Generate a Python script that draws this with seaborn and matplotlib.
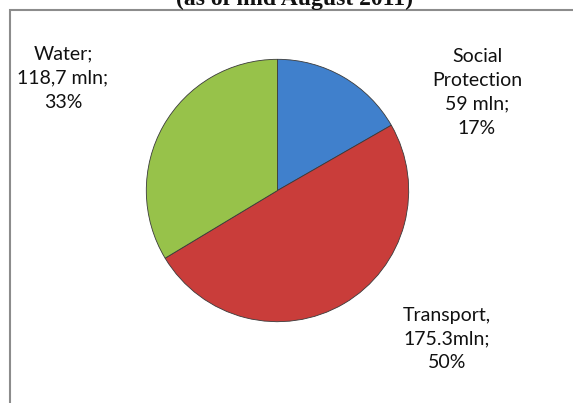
import matplotlib
matplotlib.use("Agg")
import matplotlib.pyplot as plt
import seaborn as sns
from matplotlib.patches import Rectangle

sns.set_style("white")
plt.rcParams['font.family'] = ['Lato', 'DejaVu Sans']

categories = ["Social Protection", "Transport", "Water"]
values = [59, 175.3, 118.7]
label_texts = ["Social\nProtection\n59 mln;\n17%", "Transport,\n175.3mln;\n50%", "Water;\n118,7 mln;\n33%"]
colors = ["#4080CC", "#C93D3A", "#97C24A"]
title = "(as of mid August 2011)"

W, H = 573, 403
fig = plt.figure(figsize=(W / 100, H / 100), dpi=100)
fig.patch.set_facecolor("white")

def px(x, y):
    return x / W, 1 - y / H

# frame (left and top borders visible)
fig.patches.append(Rectangle(px(10, 420), (W + 20) / W, (420 - 9.5) / H, transform=fig.transFigure,
                             fill=False, edgecolor="#8C8C8C", linewidth=1.5, zorder=0))

cx, cy, r = 277.5, 190.5, 132.5
ax = fig.add_axes([(cx - r) / W, 1 - (cy + r) / H, 2 * r / W, 2 * r / H])
wedges, _ = ax.pie(values, colors=colors, startangle=90, counterclock=False,
                   wedgeprops=dict(edgecolor="#3a3a3a", linewidth=0.6), radius=1.0)
ax.set_xlim(-1.01, 1.01)
ax.set_ylim(-1.01, 1.01)
ax.set_aspect("auto")
ax.axis("off")

# labels
positions = [(477, 92), (447, 339), (63, 78)]
for txt, (x, y) in zip(label_texts, positions):
    fig.text(*px(x, y), txt, ha="center", va="center", fontsize=14, color="#111111",
             linespacing=1.5, multialignment="center")

fig.text(*px(295, 5), title, ha="center", va="baseline", fontsize=17, fontweight="bold",
         family=["Liberation Serif", "DejaVu Serif"], color="#111111")

fig.savefig("out.png", dpi=100)
